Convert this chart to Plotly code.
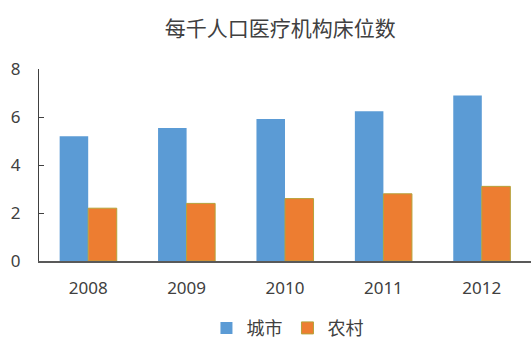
import plotly.graph_objects as go

years = ["2008", "2009", "2010", "2011", "2012"]
city = [5.2, 5.54, 5.92, 6.24, 6.9]
rural = [2.2, 2.4, 2.6, 2.8, 3.11]
y_ticks = [0, 2, 4, 6, 8]

font_cjk = "Noto Sans CJK SC"

fig = go.Figure()
fig.add_trace(go.Bar(x=years, y=city, name="城市", marker=dict(color="#5B9BD5", line=dict(width=0))))
fig.add_trace(go.Bar(x=years, y=rural, name="农村", marker=dict(color="#ED7D31", line=dict(color="#B5A23A", width=1))))

fig.update_layout(
    width=532, height=352,
    margin=dict(l=39, r=1, t=69, b=91),
    paper_bgcolor="white", plot_bgcolor="white",
    barmode="group", bargap=0.42, bargroupgap=0,
    title=dict(text="每千人口医疗机构床位数", x=0.527, xanchor="center", y=0.918, yanchor="middle",
               font=dict(family=font_cjk, size=21, color="#404040")),
    font=dict(family=font_cjk, size=13, color="#404040"),
    showlegend=True,
    legend=dict(orientation="h", x=0.505, xanchor="center", y=-0.35, yanchor="middle",
                font=dict(family=font_cjk, size=18, color="#404040"), itemwidth=30, traceorder="normal"),
)
fig.update_xaxes(showline=True, linecolor="#595959", linewidth=1.5, ticks="", showgrid=False,
                 tickfont=dict(family="Noto Sans", size=17, color="#404040"), ticklabelstandoff=11)
fig.update_yaxes(range=[0, 8], tickvals=y_ticks, showline=True, linecolor="#404040", linewidth=1,
                 ticks="inside", ticklen=5, tickcolor="#404040", showgrid=False, zeroline=False,
                 tickfont=dict(family="Noto Sans", size=17, color="#404040"), ticklabelstandoff=14)

fig.write_html("out.html")
